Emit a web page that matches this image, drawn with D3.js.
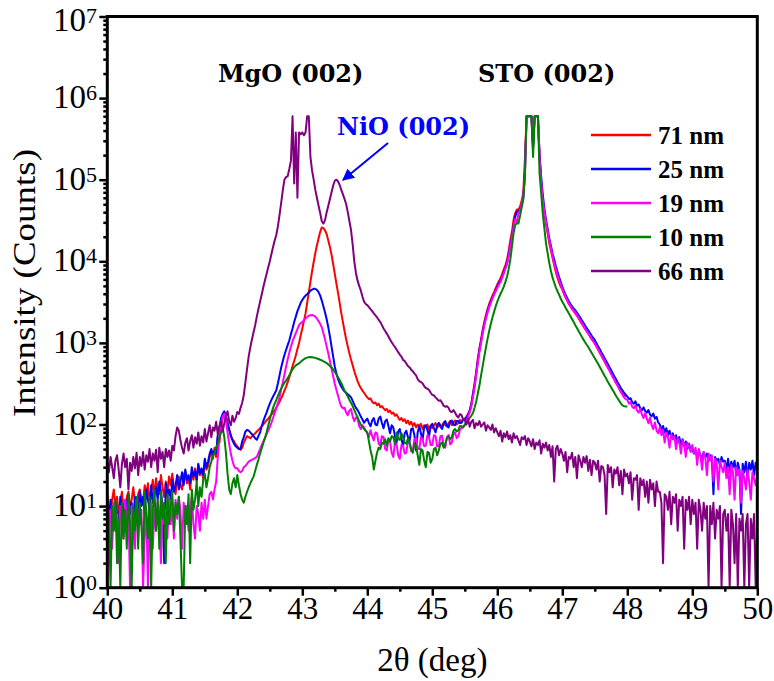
<!DOCTYPE html>
<html>
<head>
<meta charset="utf-8">
<script src="https://cdn.jsdelivr.net/npm/d3@7"></script>
<style>
  html, body { margin: 0; padding: 0; background: #fff; }
  svg { display: block; }
</style>
</head>
<body>
<div id="chart"></div>
<script>
// XRD 2θ scans (log intensity) of NiO films of different thickness on MgO / STO

const xTicks = [40, 41, 42, 43, 44, 45, 46, 47, 48, 49, 50];
const yExponents = [0, 1, 2, 3, 4, 5, 6, 7];
const seriesNames = ["71 nm", "25 nm", "19 nm", "10 nm", "66 nm"];
const seriesColors = ["#ff0000", "#0000ff", "#ff00ff", "#008000", "#800080"];

// scans recorded from 40° in 0.025° steps; counts per step
const scanStart = 40;
const scanStep = 0.025;

const counts71 = [
14,9,7,12,16,10,13,8,11,15,9,6,13,15,10,12,17,11,8,14,
16,12,11,18,14,19,12,15,21,13,22,16,14,24,17,13,20,15,23,18,
25,17,14,21,23,18,16,24,27,19,22,16,26,21,29,20,32,24,27,22,
35,28,31,40,45,38,52,40,70,60,95,120,140,125,100,85,72,66,62,57,
54,51,49,52,60,66,72,70,68,71,75,78,82,86,90,95,100,106,112,118,
125,132,140,150,160,175,190,210,230,260,290,330,380,440,520,600,700,840,1000,1230,
1500,1850,2300,3100,4200,5600,7500,9800,12600,15700,19000,23000,26000,25500,24000,21500,18000,15000,12000,9200,
7000,5300,4100,3100,2300,1800,1400,1100,900,740,620,530,450,390,340,305,280,260,245,228,
215,205,208,190,182,186,172,180,163,168,158,150,155,142,148,136,140,128,133,122,
114,120,110,116,104,112,100,108,96,104,92,100,95,102,88,98,94,100,86,97,
90,98,104,92,96,100,92,106,98,95,104,110,98,106,112,100,104,114,108,116,
118,125,135,150,180,240,320,440,640,860,1100,1450,1800,2200,2600,3000,3400,3800,4200,4700,
5200,5700,6200,7000,8000,9000,10500,13500,18000,23000,32000,39000,43000,43000,47000,55000,70000,180000,600000,600000,
600000,600000,250000,600000,600000,600000,200000,90000,55000,38000,28000,22000,16500,13500,11000,9000,7400,6300,5500,4900,
4500,4000,3600,3300,3000,2800,2600,2450,2300,2150,2000,1850,1720,1600,1480,1380,1300,1200,1120,1050,
980,900,830,760,700,640,590,540,500,460,420,385,355,325,300,275,255,240,230,225,
220
];

const counts25 = [
10,7,12,6,9,11,8,5,13,10,7,12,9,14,8,11,6,13,10,7,
15,10,13,8,16,12,9,18,11,14,17,12,20,15,10,2,19,13,16,12,
21,15,18,24,16,20,26,18,28,21,24,19,30,23,27,21,33,25,29,24,
38,30,35,44,50,42,48,45,75,90,120,135,145,125,105,88,74,64,58,54,
52,50,50,62,70,82,86,84,80,76,72,68,65,72,80,95,110,125,140,160,
180,200,220,240,263,320,400,500,600,710,820,940,1070,1280,1500,1800,2100,2450,2750,3100,
3350,3600,3800,3950,4150,4350,4500,4600,4600,4450,4200,3800,3300,2800,2350,1950,1550,1200,900,680,
510,420,360,320,290,270,255,245,235,225,215,195,175,160,150,138,125,115,105,112,
118,104,95,112,120,100,98,118,125,104,90,110,115,96,78,98,92,72,60,82,
88,66,55,78,84,70,62,88,90,74,48,80,95,78,65,92,98,85,72,96,
102,90,80,98,105,94,88,104,110,96,92,108,112,100,98,110,110,104,105,115,
115,120,130,145,175,230,300,420,600,820,1050,1350,1700,2050,2450,2850,3200,3600,4000,4400,
4900,5400,5800,6500,7300,8300,9600,12000,15500,20000,27000,35000,40000,42000,42000,48000,60000,120000,600000,600000,
600000,600000,240000,600000,600000,600000,200000,110000,65000,44000,32000,25000,19000,15500,12500,10500,8800,7500,6400,5600,
4900,4350,3900,3550,3250,3000,2800,2650,2500,2350,2200,2050,1900,1760,1630,1520,1420,1320,1230,1150,
1080,990,910,840,770,710,650,600,550,505,465,425,390,360,330,305,280,262,245,232,
220,205,210,188,180,192,170,176,158,150,162,146,140,150,132,126,136,118,124,106,
100,86,96,80,90,74,84,70,78,66,74,60,70,56,66,54,62,50,58,48,
50,44,48,40,46,42,38,46,40,44,36,42,40,14,40,36,38,32,40,35,
36,28,38,26,35,30,36,24,34,28,8,33,26,35,22,34,28,36,24,34,
30
];

const counts19 = [
1,6,9,3,11,5,8,2,10,7,4,12,6,9,1,10,5,3,12,7,
6,9,1,4,10,1,7,11,3,9,5,12,8,2,11,6,9,4,13,6,
10,4,12,7,13,9,3,11,6,10,5,9,13,6,4,10,8,5,11,7,
12,7,10,14,15,12,16,20,40,70,100,125,135,110,80,58,44,36,31,29,
29,27,26,27,30,31,33,35,36,37,38,39,40,45,50,56,62,68,76,84,
93,105,120,138,160,185,215,270,330,410,510,630,760,900,1050,1180,1320,1480,1650,1750,
1800,1900,2000,2080,2150,2180,2200,2170,2100,1980,1850,1710,1550,1300,1100,900,740,600,480,390,
316,265,225,190,166,158,160,140,130,148,155,125,110,122,118,96,88,98,92,84,
78,70,85,72,64,80,78,58,55,72,70,50,48,66,62,45,40,60,58,42,
38,56,55,44,45,62,60,47,48,66,68,50,50,70,66,54,55,74,70,56,
56,74,72,54,54,72,73,55,52,70,74,57,60,76,80,68,72,86,90,95,
98,110,125,140,165,215,285,400,570,780,1000,1300,1650,2000,2350,2750,3100,3500,3900,4300,
4750,5200,5600,6300,7100,8100,9300,11500,15000,19500,26000,33000,30000,38000,42000,50000,62000,110000,600000,600000,
600000,600000,300000,600000,600000,600000,180000,95000,56000,40000,30000,23000,18000,14500,11500,9500,8000,6800,5900,5200,
4600,4100,3700,3350,3050,2850,2650,2500,2350,2200,2050,1900,1760,1630,1500,1400,1310,1220,1130,1060,
990,910,840,770,710,650,600,550,505,460,420,385,355,325,300,275,250,232,215,205,
200,180,188,165,158,172,148,140,155,132,120,138,118,104,122,98,88,106,84,78,
92,74,86,60,80,70,52,76,66,72,50,68,62,44,64,58,40,60,54,46,
56,44,52,32,50,42,28,46,40,24,44,36,42,20,38,34,16,36,30,26,
34,22,30,14,32,26,12,30,24,28,11,27,22,16,28,20,12,26,22,18,
24
];

const counts10 = [
3,8,1,10,5,12,2,7,1,11,4,9,3,14,6,1,10,5,13,3,
11,6,2,15,8,4,13,1,9,16,5,12,3,15,7,11,2,14,6,10,
15,5,11,8,13,4,1,1,10,6,14,2,16,9,12,20,10,17,13,21,
25,17,22,30,35,42,45,52,58,70,80,91,70,45,25,16,14,19,22,17,
24,18,14,12,11,13,15,17,19,21,23,27,32,37,44,51,59,68,80,96,
115,137,160,180,200,225,250,275,300,325,345,370,400,440,475,505,530,545,560,585,
610,630,650,660,668,670,668,662,655,645,635,622,610,595,580,565,545,520,500,470,
440,410,380,350,320,290,260,240,220,200,185,168,150,135,123,110,100,94,88,84,
80,62,48,40,28,36,45,52,50,60,58,66,55,68,62,72,70,58,80,66,
65,78,70,60,58,68,60,50,45,58,55,42,32,50,48,36,30,46,45,34,
38,50,52,42,48,58,60,52,58,68,72,66,70,84,88,82,85,96,95,92,
100,104,112,120,128,138,160,190,240,300,400,520,680,880,1120,1400,1700,2050,2400,2800,
3200,3600,4000,4400,4900,5600,6500,8000,10500,15000,22000,28000,29000,29000,36000,46000,58000,120000,600000,600000,
600000,600000,190000,600000,600000,600000,120000,68000,38000,25000,16500,12500,9500,7600,6300,5500,4800,4300,3900,3500,
3200,2950,2700,2500,2300,2120,1950,1800,1650,1520,1400,1290,1190,1100,1020,950,890,820,760,700,
650,600,555,510,470,430,395,365,335,310,285,265,245,225,210,195,182,172,168,166,
166
];

const counts66 = [
34,26,40,30,22,36,42,28,17,33,44,30,38,16,34,27,40,29,45,24,
40,31,46,28,42,35,50,30,44,36,49,26,52,38,46,30,50,40,48,36,
55,48,72,92,84,64,52,44,60,68,48,63,74,52,70,58,80,55,72,60,
88,62,78,98,70,92,84,108,76,96,110,82,104,126,145,110,98,128,108,120,
142,135,160,185,230,330,480,680,880,1100,1350,1650,2100,2600,3200,3900,4800,5800,7000,8400,
10000,12300,15000,18000,21000,27000,37000,52000,74000,100000,108000,110000,135000,170000,600000,90000,380000,60000,380000,360000,
380000,350000,380000,600000,600000,190000,130000,100000,75000,60000,48000,39000,31000,29000,32000,40000,48000,58000,70000,85000,
97000,100000,95000,86000,75000,66000,58000,50000,40000,31000,24000,16000,10000,7200,5800,5000,4400,3700,3200,3000,
2900,2750,2600,2450,2300,2180,2050,1920,1800,1650,1500,1400,1300,1200,1100,1020,950,890,830,770,
720,680,620,600,560,520,500,470,450,420,400,360,340,330,320,295,280,275,265,245,
230,228,215,205,195,198,185,170,165,168,160,145,142,150,140,128,122,134,130,115,
112,100,118,94,108,114,90,104,98,110,94,100,106,84,98,92,86,100,80,90,
80,72,84,62,78,70,82,66,74,60,78,68,72,64,56,70,66,72,56,68,
62,54,66,50,60,56,64,44,58,52,60,48,56,40,54,20,50,55,42,50,
44,36,46,26,40,38,45,30,40,22,42,36,30,40,34,41,27,37,24,36,
34,28,36,20,31,30,24,8,32,26,30,17,28,25,30,18,27,14,28,23,
25,19,26,12,22,21,24,9,22,18,21,13,20,11,21,16,19,10,20,15,
15,11,2,14,13,9,15,6,13,11,14,5,12,10,13,3,12,9,13,6,
12,8,11,3,12,9,5,11,7,10,1,10,6,11,4,9,7,10,1,8,
9,5,8,1,9,6,2,8,1,7,5,8,1,6,8,1,7,4,8,1,
6
];

const scans = [counts71, counts25, counts19, counts10, counts66];

const W = 774, H = 681;
const plot = { left: 107.3, right: 757.3, top: 16.5, bottom: 587.7 };
const serif = "'Liberation Serif', 'Times New Roman', serif";

const svg = d3.select("#chart").append("svg")
  .attr("width", W).attr("height", H)
  .style("font-family", serif);

const x = d3.scaleLinear().domain([40, 50]).range([plot.left, plot.right]);
const y = d3.scaleLog().domain([1, 1e7]).range([plot.bottom, plot.top]);

svg.append("clipPath").attr("id", "plotClip")
  .append("rect")
  .attr("x", plot.left).attr("y", plot.top)
  .attr("width", plot.right - plot.left).attr("height", plot.bottom - plot.top);

// data lines
const line = d3.line()
  .x((d, i) => x(scanStart + i * scanStep))
  .y(d => y(Math.max(1, d)));
const traces = svg.append("g").attr("clip-path", "url(#plotClip)");
scans.forEach((counts, i) => {
  traces.append("path")
    .datum(counts)
    .attr("d", line)
    .attr("fill", "none")
    .attr("stroke", seriesColors[i])
    .attr("stroke-width", 2)
    .attr("stroke-linejoin", "round");
});

// axes
const majorY = yExponents.map(e => Math.pow(10, e));
const minorY = [];
yExponents.slice(0, -1).forEach(e => { for (let k = 2; k <= 9; k++) minorY.push(k * Math.pow(10, e)); });
const minorX = xTicks.slice(0, -1).map(v => v + 0.5);

function styleAxis(g) {
  g.select(".domain").remove();
  g.selectAll(".tick line").attr("stroke", "#000").attr("stroke-width", 2.5);
}

svg.append("g").attr("transform", `translate(${plot.left},0)`)
  .call(d3.axisLeft(y).tickValues(minorY).tickSize(4).tickFormat(""))
  .call(styleAxis);
svg.append("g").attr("transform", `translate(${plot.left},0)`)
  .call(d3.axisLeft(y).tickValues(majorY).tickSize(8).tickFormat(""))
  .call(styleAxis);
svg.append("g").attr("transform", `translate(0,${plot.bottom})`)
  .call(d3.axisBottom(x).tickValues(minorX).tickSize(4).tickFormat(""))
  .call(styleAxis);
const xAxis = svg.append("g").attr("transform", `translate(0,${plot.bottom})`)
  .call(d3.axisBottom(x).tickValues(xTicks).tickSize(8).tickFormat(d3.format("d")))
  .call(styleAxis);
xAxis.attr("font-family", null).attr("font-size", null);
xAxis.selectAll(".tick text")
  .style("font-family", serif)
  .style("font-size", "31px").attr("fill", "#000")
  .attr("y", 9).attr("dy", "0.71em");

// y tick labels as powers of ten (the top one sits a little lower to stay on the page)
yExponents.forEach(e => {
  const t = svg.append("text")
    .attr("x", 97).attr("y", Math.max(y(Math.pow(10, e)) + 10, 31))
    .attr("text-anchor", "end")
    .style("font-size", "33px").attr("fill", "#000");
  t.append("tspan").text("10");
  t.append("tspan").attr("dy", -8).style("font-size", "22px").text(e);
});

// frame
svg.append("rect")
  .attr("x", plot.left).attr("y", plot.top)
  .attr("width", plot.right - plot.left).attr("height", plot.bottom - plot.top)
  .attr("fill", "none").attr("stroke", "#000").attr("stroke-width", 3);

// axis titles
svg.append("text")
  .attr("x", (plot.left + plot.right) / 2).attr("y", 671)
  .attr("text-anchor", "middle").style("font-size", "33px")
  .text("2θ (deg)");
svg.append("text")
  .attr("transform", "translate(35,283) rotate(-90)")
  .attr("text-anchor", "middle").style("font-size", "32px")
  .attr("textLength", 268).attr("lengthAdjust", "spacingAndGlyphs")
  .text("Intensity (Counts)");

// peak labels
const peakFont = "'DejaVu Serif', serif";
function peakLabel(px, py, label, color) {
  svg.append("text").attr("x", px).attr("y", py)
    .style("font-family", peakFont).style("font-weight", "bold").style("font-size", "24px")
    .attr("fill", color)
    .text(label);
}
peakLabel(218, 82, "MgO (002)", "#000");
peakLabel(478, 82, "STO (002)", "#000");
peakLabel(337, 135, "NiO (002)", "#0000ff");

// arrow to the NiO reflection
svg.append("defs").append("marker")
  .attr("id", "arrowHead").attr("viewBox", "0 0 10 10")
  .attr("refX", 9).attr("refY", 5)
  .attr("markerWidth", 6).attr("markerHeight", 6)
  .attr("markerUnits", "strokeWidth")
  .attr("orient", "auto")
  .append("path").attr("d", "M0,0 L10,5 L0,10 z").attr("fill", "#0000ff");
svg.append("line")
  .attr("x1", 388).attr("y1", 143).attr("x2", 343).attr("y2", 180)
  .attr("stroke", "#0000ff").attr("stroke-width", 2)
  .attr("marker-end", "url(#arrowHead)");

// legend
const legend = svg.append("g");
seriesNames.forEach((name, i) => {
  const ly = 135 + i * 34;
  legend.append("line")
    .attr("x1", 591).attr("x2", 651).attr("y1", ly).attr("y2", ly)
    .attr("stroke", seriesColors[i]).attr("stroke-width", 2.5);
  legend.append("text")
    .attr("x", 658).attr("y", ly + 9)
    .style("font-weight", "bold").style("font-size", "25px")
    .text(name);
});
</script>
</body>
</html>
